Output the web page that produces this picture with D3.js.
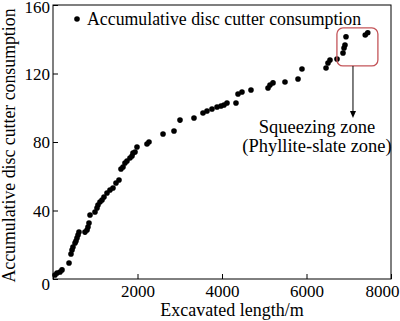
<!DOCTYPE html>
<html>
<head>
<meta charset="utf-8">
<script src="https://cdn.jsdelivr.net/npm/d3@7"></script>
<style>
  body { margin: 0; background: #fff; }
  svg text { font-family: "Liberation Serif", "Times New Roman", serif; fill: #000; }
</style>
</head>
<body>
<div id="chart"></div>
<script>
// excavated length (m) and accumulative disc cutter consumption
const lengths = [47, 95, 166, 213, 379, 426, 450, 473, 521, 544, 568, 592, 615,
    757, 805, 828, 852, 876, 994, 1041, 1065, 1112, 1160, 1207, 1278, 1349, 1420,
    1491, 1562, 1609, 1657, 1704, 1751, 1822, 1870, 1893, 1941, 1988, 2225, 2272,
    2604, 2864, 3006, 3337, 3550, 3645, 3763, 3882, 3976, 4047, 4118, 4331, 4379,
    4473, 4686, 5089, 5136, 5207, 5491, 5799, 5893, 6462, 6509, 6556, 6722, 6864,
    6888, 6911, 6935, 7390, 7450];
const consumption = [2.3, 3.5, 4.1, 5.3, 9.3, 14.6, 16.9, 18.7, 21.0, 22.2, 23.9, 25.7, 27.4,
    27.4, 28.6, 30.4, 32.7, 37.4, 39.1, 41.5, 43.2, 45.0, 46.1, 47.9, 50.2, 52.0, 53.1,
    56.1, 57.8, 64.2, 65.4, 67.7, 68.9, 70.7, 71.8, 73.6, 74.2, 77.1, 78.8, 80.0,
    84.7, 86.4, 92.8, 94.0, 96.9, 98.1, 99.3, 100.4, 101.0, 101.6, 102.8, 102.8, 108.0,
    109.2, 110.4, 111.5, 113.3, 114.5, 115.0, 116.8, 122.6, 123.2, 126.1, 127.9, 128.5, 132.0,
    134.9, 136.6, 141.5, 142.5, 143.8];
const xTicks = [0, 2000, 4000, 6000, 8000];
const yTicks = [0, 40, 80, 120, 160];
const legendLabel = "Accumulative disc cutter consumption";
const noteLines = ["Squeezing zone", "(Phyllite-slate zone)"];
// squeezing zone box corners (data units)
const zoneX = [6720, 7690];
const zoneY = [124.4, 146.6];

const margin = { top: 5, right: 9, bottom: 42, left: 53 },
    width = 400 - margin.left - margin.right,
    height = 321 - margin.top - margin.bottom;

const svg = d3.select("#chart")
    .append("svg")
    .attr("width", 400)
    .attr("height", 321)
    .append("g")
    .attr("transform", `translate(${margin.left},${margin.top})`);

const x = d3.scaleLinear().domain([0, 8000]).range([0, width]);
const y = d3.scaleLinear().domain([0, 160]).range([height, 0]);

// frame
svg.append("rect")
    .attr("width", width)
    .attr("height", height)
    .attr("fill", "none")
    .attr("stroke", "#000")
    .attr("stroke-width", 1);

const xAxis = svg.append("g")
    .attr("transform", `translate(0,${height})`)
    .call(d3.axisBottom(x).tickValues(xTicks).tickSizeInner(-5).tickSizeOuter(0)
        .tickPadding(6).tickFormat(d => d === 0 ? "" : d));
xAxis.select(".domain").remove();
xAxis.selectAll("text")
    .style("font-size", "17px")
    .style("font-family", "Liberation Serif")
    .attr("text-anchor", d => d === 8000 ? "end" : "middle")
    .attr("x", d => d === 8000 ? 8 : 0);

const yAxis = svg.append("g")
    .call(d3.axisLeft(y).tickValues(yTicks).tickSizeInner(-5).tickSizeOuter(0)
        .tickPadding(3).tickFormat(d => d));
yAxis.select(".domain").remove();
yAxis.selectAll("text")
    .style("font-size", "17px")
    .style("font-family", "Liberation Serif")
    .attr("x", -3)
    .attr("dy", d => d === 0 ? "0.62em" : d === 160 ? "0.45em" : "0.35em");

// axis titles
svg.append("text")
    .attr("x", width / 2 + 10)
    .attr("y", height + 37)
    .attr("text-anchor", "middle")
    .style("font-size", "18px")
    .text("Excavated length/m");

svg.append("text")
    .attr("transform", `translate(-38,${height / 2 + 3.5}) rotate(-90)`)
    .attr("text-anchor", "middle")
    .style("font-size", "17.8px")
    .text(legendLabel);

// points
svg.selectAll("circle.pt")
    .data(d3.range(lengths.length))
    .enter()
    .append("circle")
    .attr("class", "pt")
    .attr("cx", i => x(lengths[i]))
    .attr("cy", i => y(consumption[i]))
    .attr("r", 2.8)
    .attr("fill", "#000");

// legend
svg.append("circle")
    .attr("cx", 24)
    .attr("cy", 14)
    .attr("r", 2.8)
    .attr("fill", "#000");
svg.append("text")
    .attr("x", 34)
    .attr("y", 19.5)
    .style("font-size", "17.8px")
    .text(legendLabel);

// squeezing zone box
svg.append("rect")
    .attr("x", x(zoneX[0]))
    .attr("y", y(zoneY[1]))
    .attr("width", x(zoneX[1]) - x(zoneX[0]))
    .attr("height", y(zoneY[0]) - y(zoneY[1]))
    .attr("rx", 6)
    .attr("fill", "none")
    .attr("stroke", "#c4555a")
    .attr("stroke-width", 1.3);

// arrow
const ax = x(7100);
svg.append("line")
    .attr("x1", ax).attr("x2", ax)
    .attr("y1", y(zoneY[0])).attr("y2", 108)
    .attr("stroke", "#000")
    .attr("stroke-width", 1);
svg.append("path")
    .attr("d", `M${ax - 3},${106} L${ax + 3},${106} L${ax},${113} Z`)
    .attr("fill", "#000");

svg.selectAll("text.note")
    .data(noteLines)
    .enter()
    .append("text")
    .attr("class", "note")
    .attr("x", 264)
    .attr("y", (d, i) => 128 + i * 19)
    .attr("text-anchor", "middle")
    .style("font-size", "18.5px")
    .text(d => d);
</script>
</body>
</html>
